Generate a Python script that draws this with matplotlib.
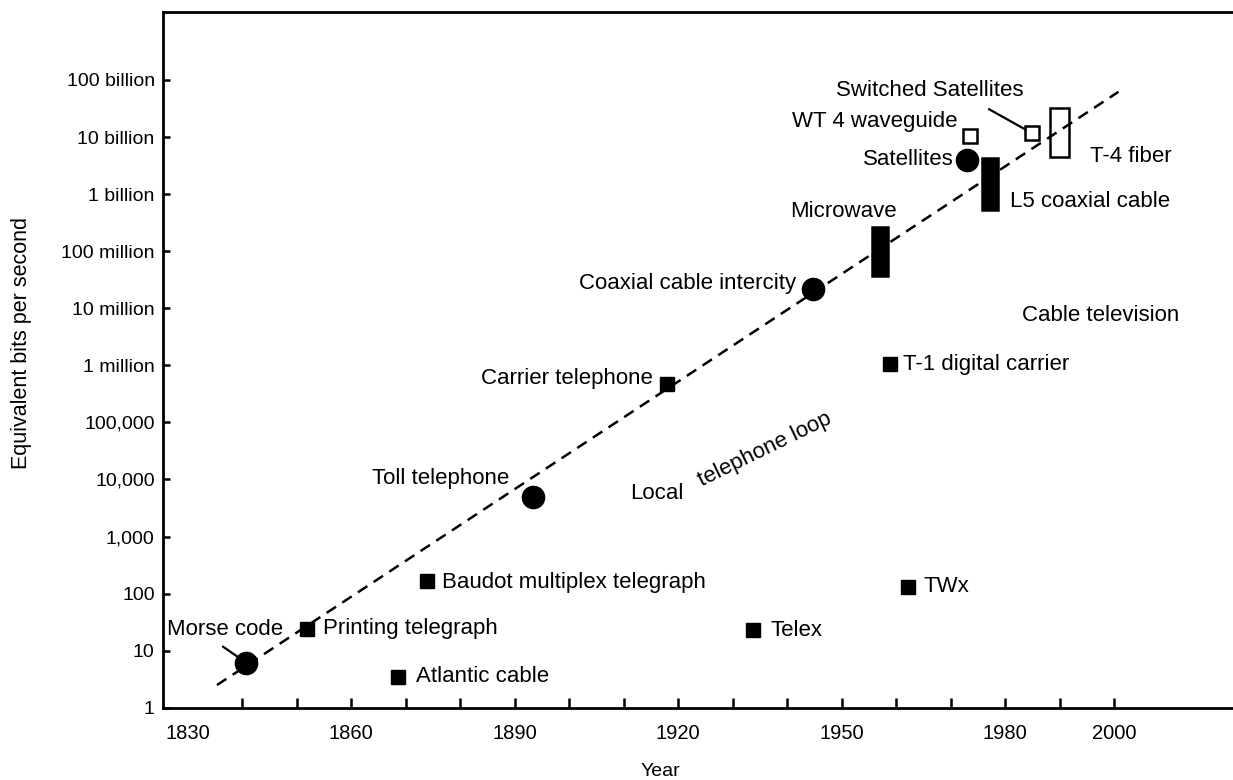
import numpy as np
import matplotlib; matplotlib.use("Agg")
import matplotlib.pyplot as plt

plt.rcParams["font.family"] = ["Liberation Sans", "DejaVu Sans"]

# filled circles
circle_names = ["Morse code", "Toll telephone", "Coaxial cable intercity", "Satellites"]
circle_years = [1840.7, 1893.3, 1944.8, 1973.0]
circle_bps = [6.2, 4.9e3, 2.2e7, 4.0e9]

# filled squares
square_names = ["Printing telegraph", "Atlantic cable", "Baudot multiplex telegraph",
                "Carrier telephone", "Telex", "T-1 digital carrier", "TWx"]
square_years = [1851.9, 1868.7, 1873.9, 1918.0, 1933.8, 1958.9, 1962.2]
square_bps = [24, 3.5, 167, 4.7e5, 23, 1.05e6, 131]

# open squares
open_names = ["WT 4 waveguide", "Switched Satellites"]
open_years = [1973.6, 1984.9]
open_bps = [1.05e10, 1.17e10]

# ranges drawn as bars
range_names = ["Microwave", "L5 coaxial cable", "T-4 fiber"]
range_years = [1957.0, 1977.2, 1990.0]
range_low = [3.6e7, 5.3e8, 4.5e9]
range_high = [2.7e8, 4.3e9, 3.2e10]
range_filled = [True, True, False]

trend_years = [1835.4, 2000.8]
trend_bps = [2.5, 6.2e10]

ytick_vals = [1, 10, 100, 1e3, 1e4, 1e5, 1e6, 1e7, 1e8, 1e9, 1e10, 1e11]
ytick_labels = ["1", "10", "100", "1,000", "10,000", "100,000", "1 million", "10 million",
                "100 million", "1 billion", "10 billion", "100 billion"]
xtick_years = list(range(1830, 2001, 10))
xlabel_years = [1830, 1860, 1890, 1920, 1950, 1980, 2000]

# label placement: (dx px, dy px, ha)
lab_pos = {
    "Morse code": (37, 33, "right"), "Toll telephone": (-23, 19, "right"),
    "Coaxial cable intercity": (-17, 5, "right"), "Satellites": (-13, 0, "right"),
    "Printing telegraph": (16, 0, "left"), "Atlantic cable": (18, 0, "left"),
    "Baudot multiplex telegraph": (15, -2, "left"), "Carrier telephone": (-14, 6, "right"),
    "Telex": (17, 0, "left"), "T-1 digital carrier": (13, 0, "left"), "TWx": (15, 0, "left"),
    "WT 4 waveguide": (-13, 14, "right"), "Switched Satellites": (-8, 43, "right"),
    "Microwave": (-36, 15, "center"), "L5 coaxial cable": (20, 8, "left"), "T-4 fiber": (30, 0, "left"),
}
FS = 16

fig = plt.figure(figsize=(12.33, 7.8), dpi=100)
ax = fig.add_axes([0.1322, 0.0926, 0.8678, 0.892])
ax.set_yscale("log")
ax.set_xlim(1825.5, 2021.8)
ax.set_ylim(1, 10 ** 12.19)

ax.plot(trend_years, trend_bps, color="k", lw=1.8, dashes=(4.5, 3), zorder=2)
ax.plot(circle_years, circle_bps, "o", color="k", ms=16, zorder=3)
ax.plot(square_years, square_bps, "s", color="k", ms=10.5, zorder=3)
ax.plot(open_years, open_bps, "s", mfc="white", mec="k", mew=1.8, ms=9.5, zorder=3)
for yr, lo, hi, filled in zip(range_years, range_low, range_high, range_filled):
    w = 2.9 if filled else 3.4
    ax.bar(yr, hi - lo, bottom=lo, width=w, color="k" if filled else "none",
           edgecolor="k", lw=1.8, zorder=3)

def put(name, x, y):
    dx, dy, ha = lab_pos[name]
    ax.annotate(name, (x, y), xytext=(dx, dy), textcoords="offset pixels",
                ha=ha, va="center", fontsize=FS, zorder=4)

for n, x, y in zip(circle_names, circle_years, circle_bps): put(n, x, y)
for n, x, y in zip(square_names, square_years, square_bps): put(n, x, y)
for n, x, y in zip(open_names, open_years, open_bps): put(n, x, y)
put("Microwave", range_years[0], range_high[0])
put("L5 coaxial cable", range_years[1], range_low[1])
put("T-4 fiber", range_years[2], range_low[2])

# leader lines
ax.annotate("", (circle_years[0], circle_bps[0]), xytext=(-23, 16), textcoords="offset pixels",
            arrowprops=dict(arrowstyle="-", lw=1.6, color="k", shrinkA=0, shrinkB=8))
ax.annotate("", (open_years[1], open_bps[1]), xytext=(-43, 24), textcoords="offset pixels",
            arrowprops=dict(arrowstyle="-", lw=1.6, color="k", shrinkA=0, shrinkB=5))

ax.text(1983.1, 10 ** 6.88, "Cable television", fontsize=FS, ha="left", va="center")
ax.text(1911.2, 10 ** 3.75, "Local", fontsize=FS, ha="left", va="center")
ax.text(1936.0, 10 ** 4.52, "telephone loop", fontsize=FS, ha="center", va="center",
        rotation=26, rotation_mode="anchor")

for s in ["left", "bottom", "top"]:
    ax.spines[s].set_linewidth(2.0)
ax.spines["right"].set_visible(False)

ax.set_yticks(ytick_vals)
ax.set_yticklabels(ytick_labels)
ax.yaxis.set_minor_locator(plt.NullLocator())
ax.tick_params(axis="y", direction="in", length=5, width=1.8, pad=6, labelsize=14)

ax.set_xticks(xtick_years)
ax.set_xticklabels([str(y) if y in xlabel_years else "" for y in xtick_years])
ax.tick_params(axis="x", direction="in", length=7, width=1.8, pad=12, labelsize=14.5)
ax.xaxis.get_major_ticks()[0].tick1line.set_visible(False)

ax.set_xlabel("Year", fontsize=14)
ax.xaxis.set_label_coords(0.465, -0.080)
ax.set_ylabel("Equivalent bits per second", fontsize=15.5)
ax.yaxis.set_label_coords(-0.1224, 0.524)

fig.savefig("out.png", dpi=100)
